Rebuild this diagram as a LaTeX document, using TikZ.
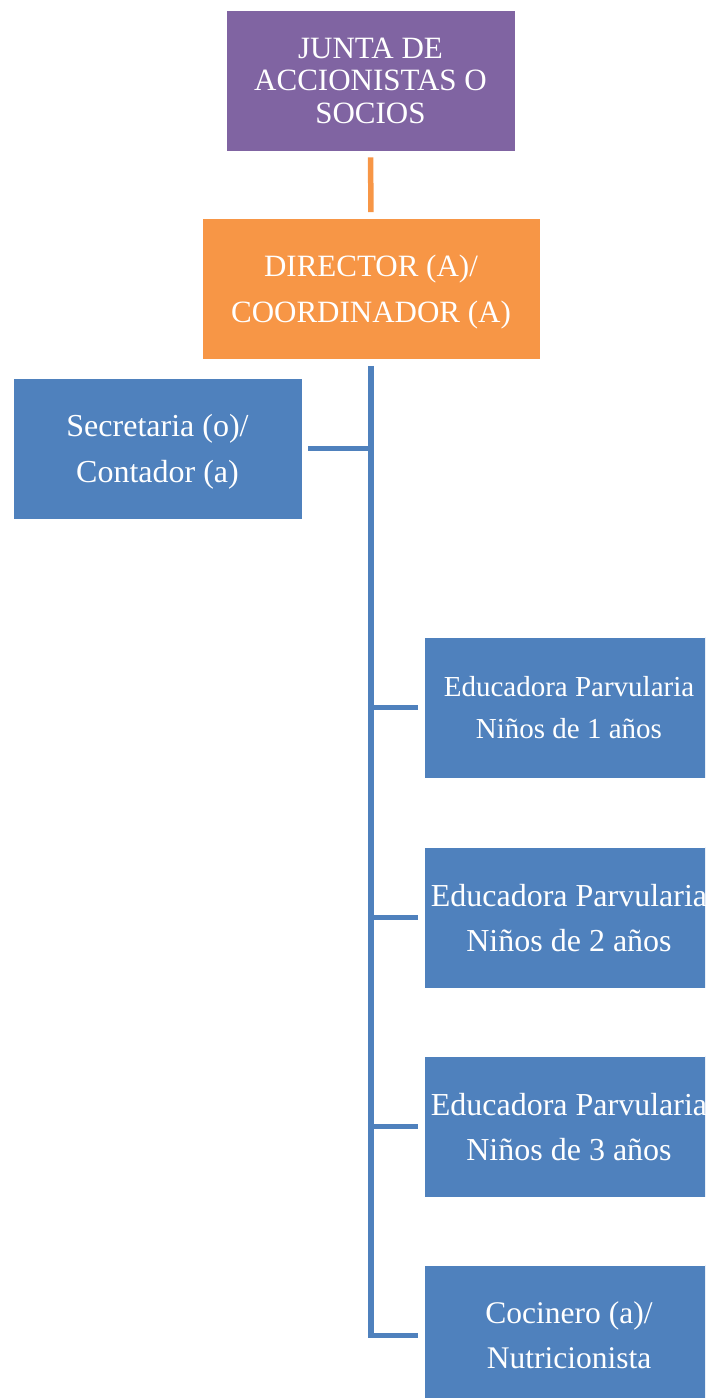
\documentclass[tikz,border=0pt]{standalone}
\usepackage{fontspec}
\setmainfont{Liberation Serif}
\usepackage{tikz}
\usetikzlibrary{positioning}
\definecolor{juntapurple}{HTML}{8064A2}
\definecolor{dirorange}{HTML}{F79646}
\definecolor{staffblue}{HTML}{4F81BD}
\tikzstyle{org}=[inner sep=0pt, draw=white, line width=0.8pt, shape=rectangle, text=white, align=center, text depth=0pt, minimum width=289pt, minimum height=141pt]
\tikzstyle{link}=[line width=5.5pt, shorten <=6pt, shorten >=6pt]

\begin{document}
\begin{tikzpicture}[x=1pt, y=-1pt]
\clip (0,0) rectangle (705,1398);
% the top two boxes
\node[org, fill=juntapurple, font=\fontsize{31}{32.5}\selectfont] (junta) at (370.5, 80.5) {JUNTA DE\\ACCIONISTAS O\\SOCIOS};
\node[org, fill=dirorange, minimum width=338pt, font=\fontsize{31}{46}\selectfont] (dir) at (371, 289) {DIRECTOR (A)/\\COORDINADOR (A)};
% the staff boxes
\node[org, fill=staffblue, font=\fontsize{32}{46}\selectfont] (sec) at (157.5, 448.5) {Secretaria (o)/\\Contador (a)};
\node[org, fill=staffblue, font=\fontsize{29}{42}\selectfont] (edu1) at (569, 707.5) {Educadora Parvularia\\Niños de 1 años};
\node[org, fill=staffblue, font=\fontsize{32}{45}\selectfont] (edu2) at (569, 917.5) {Educadora Parvularia\\Niños de 2 años};
\node[org, fill=staffblue, font=\fontsize{32}{45}\selectfont] (edu3) at (569, 1126.5) {Educadora Parvularia\\Niños de 3 años};
\node[org, fill=staffblue, font=\fontsize{31.5}{45}\selectfont] (coc) at (569, 1335.5) {Cocinero (a)/\\Nutricionista};
% the branch points on the trunk
\coordinate (bsec) at (dir.south |- sec.east);
\coordinate (bedu1) at (dir.south |- edu1.west);
\coordinate (bedu2) at (dir.south |- edu2.west);
\coordinate (bedu3) at (dir.south |- edu3.west);
% the connectors
\draw[link, dirorange] (junta) -- (dir);
\draw[link, staffblue] (dir.south) -- (dir.south |- coc.west) -- (coc.west);
\draw[link, staffblue, shorten <=0pt] (bsec) -- (sec.east);
\draw[link, staffblue, shorten <=0pt] (bedu1) -- (edu1.west);
\draw[link, staffblue, shorten <=0pt] (bedu2) -- (edu2.west);
\draw[link, staffblue, shorten <=0pt] (bedu3) -- (edu3.west);
\end{tikzpicture}
\end{document}
